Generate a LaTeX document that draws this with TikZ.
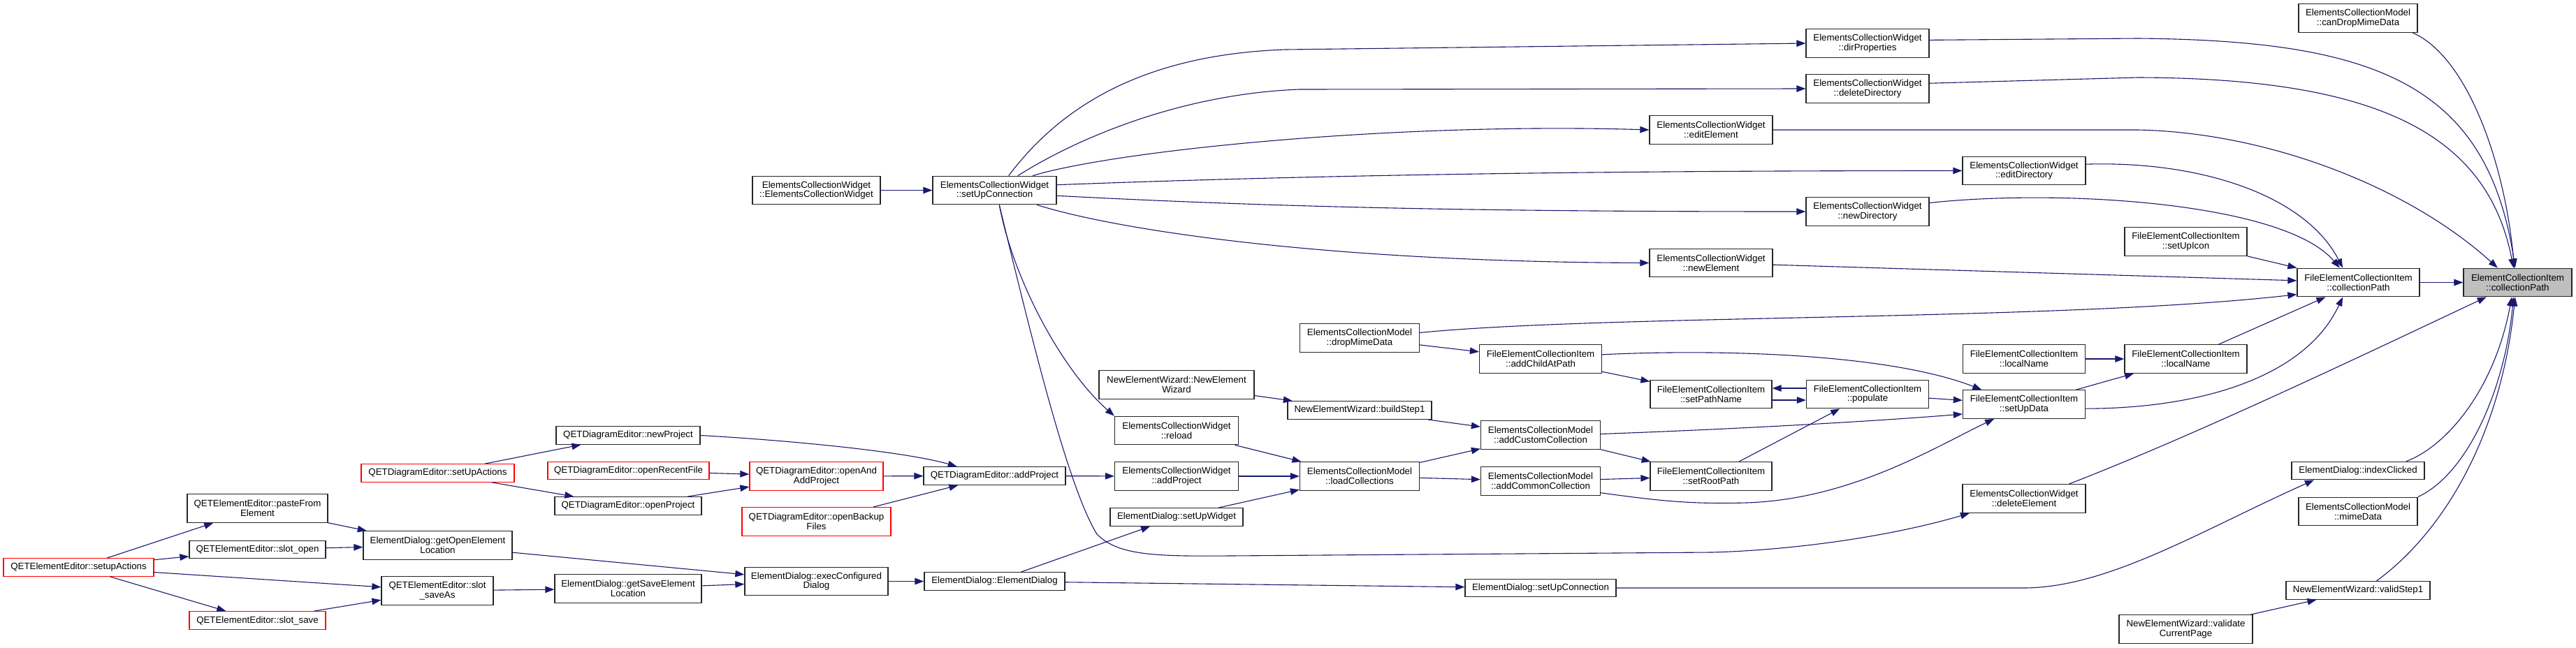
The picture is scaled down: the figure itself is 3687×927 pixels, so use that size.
\documentclass[tikz,border=0pt]{standalone}
\usepackage{fontspec}
\setmainfont{Liberation Sans}
\usetikzlibrary{arrows.meta}

\definecolor{edgeblue}{HTML}{191970}
\definecolor{rootgray}{HTML}{BFBFBF}
\definecolor{cutred}{HTML}{FF0000}

\tikzset{
  fn/.style={draw=black!85, line width=1.3pt, inner sep=0pt, align=center,
    font=\fontsize{13.3}{13.7}\selectfont, minimum height=25.5pt},
  fntwo/.style={fn, minimum height=40.5pt},
  call/.style={draw=edgeblue, line width=1.1pt, -{Triangle[length=13pt,width=9.5pt]}}
}

\begin{document}
\begin{tikzpicture}[x=1pt,y=-1pt]

\path[use as bounding box, fill=white] (0,0) rectangle (3687,927);

% Fonctions
\node[fntwo, minimum width=201] (paste) at (368.5,728) {QETElementEditor::pasteFrom\\Element};
\node[fn, minimum width=195] (slotopen) at (368.5,787) {QETElementEditor::slot\_open};
\node[fntwo, minimum width=213] (getopen) at (626.5,781) {ElementDialog::getOpenElement\\Location};
\node[fntwo, minimum width=160] (saveas) at (626,846) {QETElementEditor::slot\\\_saveAs};
\node[fn, minimum width=206] (newproj) at (899,623.5) {QETDiagramEditor::newProject};
\node[fn, minimum width=210] (openproj) at (899,724.5) {QETDiagramEditor::openProject};
\node[fntwo, minimum width=210] (getsave) at (899,843) {ElementDialog::getSaveElement\\Location};
\node[fntwo, minimum width=205] (execdlg) at (1168.5,832.5) {ElementDialog::execConfigured\\Dialog};
\node[fntwo, minimum width=183] (ecwctor) at (1168.5,272.5) {ElementsCollectionWidget\\::ElementsCollectionWidget};
\node[fn, minimum width=203] (qdaddproj) at (1423.5,681.5) {QETDiagramEditor::addProject};
\node[fn, minimum width=201] (eddlg) at (1423.5,832.5) {ElementDialog::ElementDialog};
\node[fntwo, minimum width=177] (ecwconn) at (1423.5,272.5) {ElementsCollectionWidget\\::setUpConnection};
\node[fntwo, minimum width=222] (newwiz) at (1684,551) {NewElementWizard::NewElement\\Wizard};
\node[fntwo, minimum width=177] (reload) at (1684,616.5) {ElementsCollectionWidget\\::reload};
\node[fntwo, minimum width=177] (ecwaddproj) at (1684,682) {ElementsCollectionWidget\\::addProject};
\node[fn, minimum width=190] (setupwidget) at (1684,740.5) {ElementDialog::setUpWidget};
\node[fntwo, minimum width=171] (dropmime) at (1946,484) {ElementsCollectionModel\\::dropMimeData};
\node[fn, minimum width=206] (buildstep) at (1946,587.5) {NewElementWizard::buildStep1};
\node[fntwo, minimum width=171] (loadcoll) at (1946,682) {ElementsCollectionModel\\::loadCollections};
\node[fntwo, minimum width=175] (addchild) at (2205,514) {FileElementCollectionItem\\::addChildAtPath};
\node[fntwo, minimum width=171] (addcustom) at (2205,623) {ElementsCollectionModel\\::addCustomCollection};
\node[fntwo, minimum width=171] (addcommon) at (2205,689) {ElementsCollectionModel\\::addCommonCollection};
\node[fn, minimum width=216] (edconn) at (2205,842) {ElementDialog::setUpConnection};
\node[fntwo, minimum width=176] (editel) at (2449,186) {ElementsCollectionWidget\\::editElement};
\node[fntwo, minimum width=176] (newel) at (2449,376.5) {ElementsCollectionWidget\\::newElement};
\node[fntwo, minimum width=174] (setpath) at (2449,564.5) {FileElementCollectionItem\\::setPathName};
\node[fntwo, minimum width=174] (setroot) at (2449,682) {FileElementCollectionItem\\::setRootPath};
\node[fntwo, minimum width=176] (dirprop) at (2673,62) {ElementsCollectionWidget\\::dirProperties};
\node[fntwo, minimum width=176] (deldir) at (2673,127) {ElementsCollectionWidget\\::deleteDirectory};
\node[fntwo, minimum width=176] (newdir) at (2673,303) {ElementsCollectionWidget\\::newDirectory};
\node[fntwo, minimum width=175] (populate) at (2673,564.5) {FileElementCollectionItem\\::populate};
\node[fntwo, minimum width=176] (editdir) at (2897,244.5) {ElementsCollectionWidget\\::editDirectory};
\node[fntwo, minimum width=175] (localname) at (2897,514) {FileElementCollectionItem\\::localName};
\node[fntwo, minimum width=175] (setupdata) at (2897,579) {FileElementCollectionItem\\::setUpData};
\node[fntwo, minimum width=176] (delel) at (2897,714) {ElementsCollectionWidget\\::deleteElement};
\node[fntwo, minimum width=175] (setupicon) at (3128.5,346) {FileElementCollectionItem\\::setUpIcon};
\node[fntwo, minimum width=175] (filocal) at (3128.5,514) {FileElementCollectionItem\\::localName};
\node[fntwo, minimum width=191] (validate) at (3128.5,901) {NewElementWizard::validate\\CurrentPage};
\node[fntwo, minimum width=170] (candrop) at (3375,26) {ElementsCollectionModel\\::canDropMimeData};
\node[fntwo, minimum width=175] (filepath) at (3375.5,404.5) {FileElementCollectionItem\\::collectionPath};
\node[fn, minimum width=190] (indexclick) at (3375,674) {ElementDialog::indexClicked};
\node[fntwo, minimum width=170] (mimedata) at (3375,732.5) {ElementsCollectionModel\\::mimeData};
\node[fn, minimum width=206] (validstep) at (3375,845.5) {NewElementWizard::validStep1};

% Fonctions tronquees
\node[fn, draw=cutred, minimum width=215] (qeesetup) at (112.5,812.5) {QETElementEditor::setupActions};
\node[fn, draw=cutred, minimum width=195] (slotsave) at (368.5,888.5) {QETElementEditor::slot\_save};
\node[fn, draw=cutred, minimum width=219] (qdsetup) at (626.5,677.5) {QETDiagramEditor::setUpActions};
\node[fn, draw=cutred, minimum width=231] (recent) at (899.5,674) {QETDiagramEditor::openRecentFile};
\node[fntwo, draw=cutred, minimum width=191] (openadd) at (1168.5,682) {QETDiagramEditor::openAnd\\AddProject};
\node[fntwo, draw=cutred, minimum width=213] (backup) at (1168.5,747) {QETDiagramEditor::openBackup\\Files};

% Racine
\node[fntwo, fill=rootgray, minimum width=155] (eci) at (3603.5,404.5) {ElementCollectionItem\\::collectionPath};

% Appels directs
\foreach \a/\b in {
qeesetup/paste, qeesetup/slotopen, qeesetup/saveas, qeesetup/slotsave,
paste/getopen, slotopen/getopen, slotsave/saveas, saveas/getsave,
getopen/execdlg, getsave/execdlg, execdlg/eddlg,
qdsetup/newproj, qdsetup/openproj, recent/openadd, openproj/openadd,
openadd/qdaddproj, backup/qdaddproj, qdaddproj/ecwaddproj,
ecwctor/ecwconn, eddlg/setupwidget, eddlg/edconn, newwiz/buildstep,
reload/loadcoll, ecwaddproj/loadcoll, setupwidget/loadcoll,
buildstep/addcustom, loadcoll/addcustom, loadcoll/addcommon,
dropmime/addchild, addchild/setpath, addcustom/setroot, addcommon/setroot,
setroot/populate, populate/setupdata, setupdata/filocal, localname/filocal,
filocal/filepath, setupicon/filepath, newel/filepath, filepath/eci,
validate/validstep}
{
    \draw[call] (\a) -- (\b);
}

% Appels courbes
\draw[call] (newproj.east) .. controls (1150,632) and (1300,648) .. (qdaddproj.166);

\draw[call] (ecwconn.46) .. controls (1520,150) and (1640,78) .. (1840,71) -- (dirprop.west);
\draw[call] (ecwconn.32) .. controls (1530,205) and (1680,135) .. (1860,128) -- (deldir.west);
\draw[call] (ecwconn.21) .. controls (1600,215) and (2000,175) .. (editel.west);
\draw[call] (ecwconn.5) .. controls (1900,250) and (2300,244.5) .. (editdir.west);
\draw[call] (ecwconn.-5) .. controls (1850,298) and (2150,303) .. (newdir.west);
\draw[call] (ecwconn.-19) .. controls (1600,330) and (1900,375) .. (newel.west);
\draw[call] (ecwconn.-72) .. controls (1450,400) and (1520,530) .. (reload.north west);
\draw[call] (ecwconn.-72) .. controls (1480,500) and (1530,700) .. (1570,765)
  .. controls (1600,795) and (1650,797) .. (1760,796) -- (2450,791)
  .. controls (2560,788) and (2700,770) .. (delel.-165);

\draw[call] (edconn.east) -- (2900,842) .. controls (3020,840) and (3150,760) .. (indexclick.-168);
\draw[call] (dropmime.5) .. controls (2300,450) and (2950,460) .. (filepath.-169);
\draw[call] (addchild.4) .. controls (2450,500) and (2700,505) .. (setupdata.161);
\draw[call] (addcustom.1) .. controls (2500,614) and (2700,602) .. (setupdata.-171);
\draw[call] (addcommon.-11) .. controls (2380,718) and (2420,722) .. (2500,720)
  .. controls (2650,715) and (2770,640) .. (setupdata.-154);

\draw[call] ([yshift=-8.5pt]setpath.east) -- ([yshift=-8.5pt]populate.west);
\draw[call] ([yshift=8.5pt]populate.west) -- ([yshift=8.5pt]setpath.east);

\draw[call] (setupdata.-4) .. controls (3150,585) and (3300,540) .. (filepath.-137);
\draw[call] (editdir.6) .. controls (3150,230) and (3300,280) .. (filepath.137);
\draw[call] (newdir.8) .. controls (2950,270) and (3270,290) .. (filepath.142);

\draw[call] (candrop.-15) .. controls (3530,80) and (3585,230) .. (eci.103);
\draw[call] (dirprop.3) -- (3060,55) .. controls (3400,58) and (3560,120) .. (eci.100);
\draw[call] (deldir.5) -- (3060,111) .. controls (3400,112) and (3560,190) .. (eci.106);
\draw[call] (editel.east) -- (3060,186) .. controls (3250,190) and (3450,270) .. (eci.144);
\draw[call] (delel.18) .. controls (3150,620) and (3400,500) .. (eci.-155);
\draw[call] (indexclick.11) .. controls (3500,640) and (3570,560) .. (eci.-112);
\draw[call] (mimedata.north east) .. controls (3530,680) and (3585,560) .. (eci.-106);
\draw[call] (validstep.27) .. controls (3500,760) and (3580,620) .. (eci.-100);

\end{tikzpicture}
\end{document}
